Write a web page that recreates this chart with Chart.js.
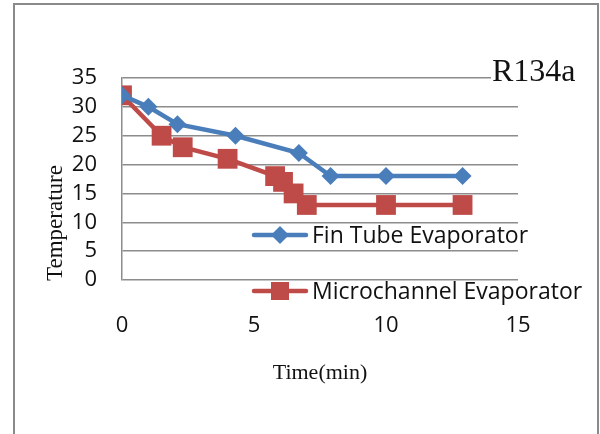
<!DOCTYPE html>
<html>
<head>
<meta charset="utf-8">
<script src="https://cdn.jsdelivr.net/npm/chart.js@4/dist/chart.umd.min.js"></script>
<style>
  html, body { margin: 0; padding: 0; background: #fff; overflow: hidden; }
  #wrap { position: relative; width: 600px; height: 434px; }
  #frame { position: absolute; left: 13px; top: 3px; width: 582px; height: 440px; border: 2px solid #8a8a8a; }
  #chart { position: absolute; left: 0; top: 0; }
</style>
</head>
<body>
<div id="wrap">
  <div id="frame"></div>
  <canvas id="chart" width="600" height="434"></canvas>
</div>
<script>
// Fin Tube Evaporator
const finTime = [0, 1, 2.1, 4.3, 6.7, 7.9, 10, 12.9];
const finTemp = [32, 30, 27, 25, 22, 18, 18, 18];

// Microchannel Evaporator
const microTime = [0, 1.5, 2.3, 4, 5.8, 6.1, 6.5, 7, 10, 12.9];
const microTemp = [32, 25, 23, 21, 18, 17, 15, 13, 13, 13];

const xTicks = [0, 5, 10, 15];
const yTicks = [0, 5, 10, 15, 20, 25, 30, 35];

const seriesNames = ['Fin Tube Evaporator', 'Microchannel Evaporator'];
const chartLabel = 'R134a';
const xTitle = 'Time(min)';
const yTitle = 'Temperature';

const blue = '#4a7ebb';
const red = '#be4b48';
const gridGray = '#8c8c8c';
const sansFont = '"Open Sans", "Liberation Sans", sans-serif';
const serifFont = '"Liberation Serif", "DejaVu Serif", serif';

function toPoints(xs, ys) {
    return xs.map((x, i) => ({ x: x, y: ys[i] }));
}

// legend, titles and the R134a tag drawn by hand
const extras = {
    id: 'extras',
    afterDraw(chart) {
        const ctx = chart.ctx;
        ctx.save();

        // R134a tag with white box behind it
        ctx.font = '32px ' + serifFont;
        ctx.textBaseline = 'alphabetic';
        ctx.textAlign = 'left';
        const tw = ctx.measureText(chartLabel).width;
        ctx.fillStyle = '#fff';
        ctx.fillRect(491, 56, tw + 4, 28);
        ctx.fillStyle = '#111';
        ctx.fillText(chartLabel, 492, 81);

        // legend
        const rows = [
            { name: seriesNames[0], color: blue, shape: 'diamond', y: 235 },
            { name: seriesNames[1], color: red, shape: 'square', y: 291 }
        ];
        ctx.font = '23px ' + sansFont;
        ctx.textBaseline = 'middle';
        rows.forEach(r => {
            ctx.strokeStyle = r.color;
            ctx.lineWidth = 4.5;
            ctx.lineCap = 'round';
            ctx.beginPath();
            ctx.moveTo(254, r.y);
            ctx.lineTo(306, r.y);
            ctx.stroke();
            ctx.fillStyle = r.color;
            ctx.beginPath();
            if (r.shape === 'diamond') {
                ctx.moveTo(280, r.y - 9);
                ctx.lineTo(289, r.y);
                ctx.lineTo(280, r.y + 9);
                ctx.lineTo(271, r.y);
                ctx.closePath();
                ctx.fill();
            } else {
                ctx.fillRect(271, r.y - 9, 18, 18);
            }
            ctx.fillStyle = '#111';
            ctx.fillText(r.name, 312, r.y + 1);
        });

        // axis titles
        ctx.font = '22px ' + serifFont;
        ctx.textAlign = 'center';
        ctx.textBaseline = 'alphabetic';
        ctx.fillText(xTitle, 320, 379);
        ctx.font = '23px ' + serifFont;
        ctx.translate(62, 223);
        ctx.rotate(-Math.PI / 2);
        ctx.fillText(yTitle, 0, 0);
        ctx.restore();
    }
};

new Chart(document.getElementById('chart').getContext('2d'), {
    type: 'line',
    data: {
        datasets: [{
            label: seriesNames[0],
            data: toPoints(finTime, finTemp),
            borderColor: blue,
            backgroundColor: blue,
            borderWidth: 4.5,
            pointStyle: 'rectRot',
            pointRadius: 9,
            pointBorderWidth: 0,
            tension: 0
        }, {
            label: seriesNames[1],
            data: toPoints(microTime, microTemp),
            borderColor: red,
            backgroundColor: red,
            borderWidth: 4.5,
            pointStyle: 'rect',
            pointRadius: 14,
            pointBorderWidth: 0,
            tension: 0
        }]
    },
    options: {
        responsive: false,
        animation: false,
        layout: { padding: { top: 78, right: 82, bottom: 0, left: 0 } },
        plugins: {
            legend: { display: false },
            tooltip: { enabled: false }
        },
        scales: {
            x: {
                type: 'linear',
                min: 0,
                max: 15,
                afterBuildTicks: s => { s.ticks = xTicks.map(v => ({ value: v })); },
                afterFit: s => { s.height = 154; },
                grid: { display: false, drawTicks: false },
                border: { display: false },
                ticks: { color: '#111', padding: 33, autoSkip: false, font: { family: sansFont, size: 22 } }
            },
            y: {
                min: 0,
                max: 35,
                afterBuildTicks: s => { s.ticks = yTicks.map(v => ({ value: v })); },
                afterFit: s => { s.width = 122; },
                grid: { color: gridGray, lineWidth: 1.5, drawTicks: false },
                border: { color: gridGray, width: 1.5 },
                ticks: { color: '#111', padding: 25, autoSkip: false, font: { family: sansFont, size: 22 } }
            }
        }
    },
    plugins: [extras]
});
</script>
</body>
</html>
